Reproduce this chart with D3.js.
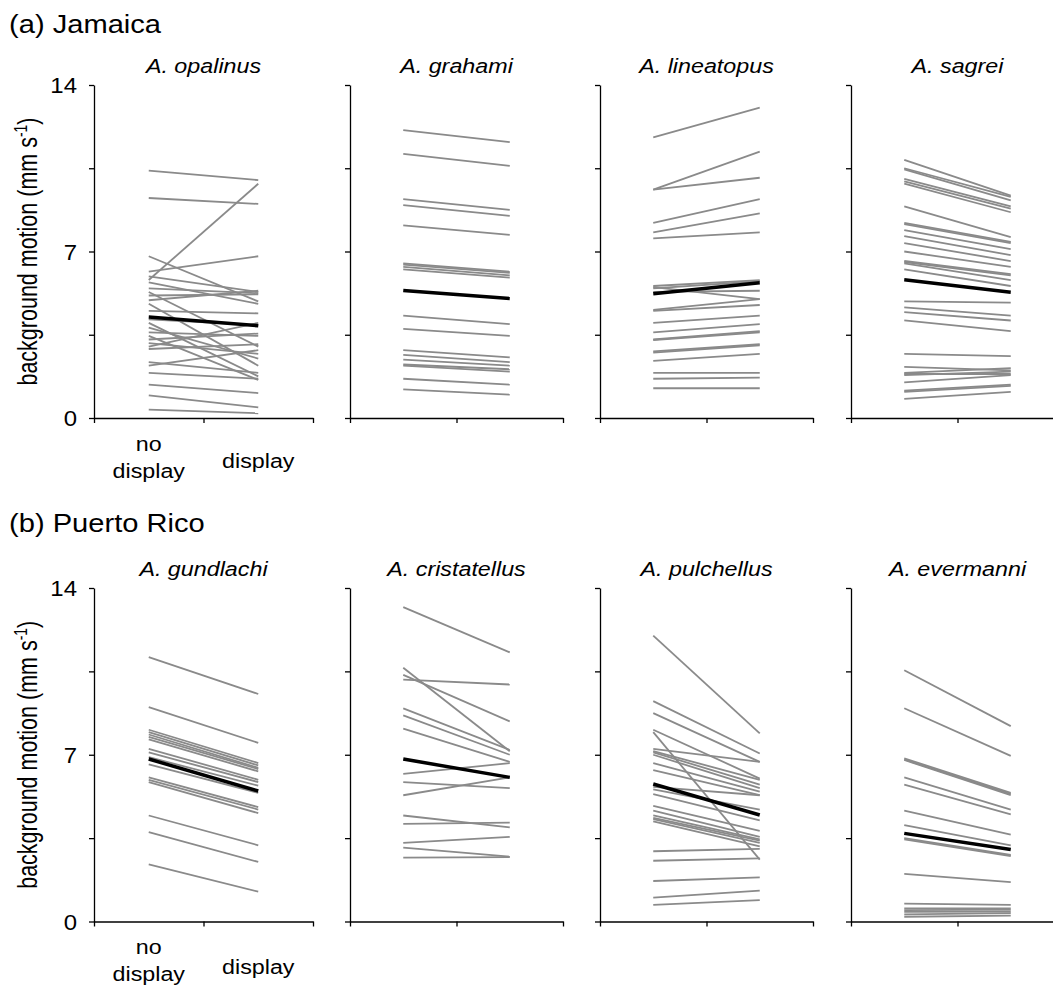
<!DOCTYPE html>
<html>
<head>
<meta charset="utf-8">
<title>Background motion, no display vs display</title>
<script src="https://d3js.org/d3.v7.min.js" charset="utf-8"></script>
<style>
  body { margin: 0; background: #fff; }
  svg { font-family: "Liberation Sans", Arial, Helvetica, sans-serif; }
  .axis path, .axis line { stroke: #000; stroke-width: 1.3px; }
  .pair { fill: none; stroke: #8a8a8a; stroke-width: 1.8px; }
  .mean { fill: none; stroke: #000; stroke-width: 3.5px; }
  .title { font-size: 20.8px; font-style: italic; }
  .row-label { font-size: 26px; }
  .cond { font-size: 20.8px; }
</style>
</head>
<body>
<script>
var width = 1053, height = 985;
var stretch = 1.12;   // the original figure's lettering is a bit wider than it is tall

// rows and panels
var rowLabels = ["(a) Jamaica", "(b) Puerto Rico"];
var species = [
  ["A. opalinus", "A. grahami", "A. lineatopus", "A. sagrei"],
  ["A. gundlachi", "A. cristatellus", "A. pulchellus", "A. evermanni"]
];
var conditions = ["no display", "display"];
var yTicks = [0, 3.5, 7, 10.5, 14];
var yTickLabels = [0, 7, 14];

// individual lizards: [no display, display], mm/s
var opalinus = [[10.4, 10.0], [9.25, 9.0], [5.8, 9.85], [6.8, 4.9], [6.15, 6.8], [5.95, 5.3],
  [5.7, 4.8], [5.45, 5.25], [5.3, 3.0], [5.15, 5.2], [4.95, 5.35], [4.8, 2.2], [4.5, 4.4],
  [4.15, 3.9], [4.0, 1.75], [3.8, 2.5], [3.6, 3.45], [3.45, 1.6], [3.3, 3.55], [3.15, 2.7],
  [3.0, 4.0], [2.9, 3.1], [2.35, 1.9], [2.2, 2.85], [1.9, 1.65], [1.4, 1.05], [0.95, 0.45], [0.35, 0.2]];
var grahami = [[12.1, 11.6], [11.1, 10.6], [9.2, 8.75], [8.95, 8.5], [8.1, 7.7], [6.5, 6.15],
  [6.45, 6.1], [6.35, 6.0], [6.25, 5.9], [4.3, 3.95], [3.75, 3.45], [2.85, 2.55], [2.65, 2.35],
  [2.45, 2.2], [2.25, 2.05], [2.2, 1.95], [1.65, 1.4], [1.2, 0.98]];
var lineatopus = [[11.8, 13.05], [9.6, 11.2], [9.6, 10.1], [8.2, 9.2], [7.8, 8.6], [7.55, 7.8],
  [5.55, 5.8], [5.45, 5.75], [5.3, 5.35], [5.5, 5.0], [4.55, 5.0], [4.5, 4.75], [4.0, 4.3],
  [3.6, 3.95], [3.3, 3.65], [3.28, 3.6], [2.8, 3.1], [2.75, 3.05], [2.4, 2.7], [1.9, 1.9],
  [1.65, 1.7], [1.25, 1.25]];
var sagrei = [[10.85, 9.35], [10.5, 9.3], [10.45, 9.15], [10.05, 8.9], [9.95, 8.8], [9.85, 8.65],
  [8.9, 7.6], [8.2, 7.4], [8.15, 7.35], [7.9, 7.1], [7.65, 6.85], [7.35, 6.6], [7.0, 6.35],
  [6.6, 6.05], [6.55, 6.0], [6.5, 5.8], [6.25, 5.55], [4.9, 4.85], [4.65, 4.3], [4.45, 4.1],
  [4.1, 3.65], [2.7, 2.6], [2.15, 2.0], [1.9, 2.1], [1.85, 1.85], [1.8, 1.95], [1.5, 1.8],
  [1.15, 1.4], [1.1, 1.35], [0.8, 1.1]];
var gundlachi = [[11.1, 9.55], [9.0, 7.5], [8.05, 6.65], [7.95, 6.55], [7.85, 6.45], [7.75, 6.4],
  [7.65, 6.3], [7.25, 5.95], [7.1, 5.85], [6.9, 5.7], [6.6, 5.4], [6.05, 4.8], [5.95, 4.7],
  [5.85, 4.55], [4.45, 3.2], [3.75, 2.5], [2.4, 1.25]];
var cristatellus = [[13.2, 11.3], [10.65, 7.15], [10.35, 8.4], [10.15, 9.95], [8.95, 7.2],
  [8.65, 7.0], [8.1, 6.7], [6.2, 6.65], [5.85, 5.6], [5.3, 6.05], [4.45, 3.95], [4.1, 4.15],
  [3.3, 3.55], [3.1, 2.72], [2.68, 2.7]];
var pulchellus = [[12.0, 7.9], [9.25, 7.05], [8.75, 6.7], [8.05, 6.0], [7.95, 2.6], [7.25, 6.7],
  [7.15, 5.95], [7.1, 5.75], [7.0, 5.6], [6.65, 5.45], [6.35, 5.3], [5.65, 5.3], [5.55, 4.7],
  [5.35, 4.25], [4.85, 3.8], [4.65, 3.55], [4.45, 3.45], [4.35, 3.4], [4.3, 3.3], [4.2, 3.15],
  [2.95, 3.05], [2.55, 2.65], [1.7, 1.85], [1.0, 1.3], [0.7, 0.9]];
var evermanni = [[10.55, 8.2], [8.95, 6.95], [6.85, 5.4], [6.8, 5.35], [6.78, 5.3], [6.05, 4.7],
  [5.75, 4.5], [4.65, 3.65], [4.05, 3.2], [3.5, 2.8], [3.45, 2.75], [2.0, 1.65], [0.75, 0.7],
  [0.55, 0.55], [0.48, 0.5], [0.4, 0.42], [0.3, 0.35], [0.2, 0.25]];

// species means, same order as the panels
var means = [[4.25, 3.88], [5.36, 5.02], [5.22, 5.69], [5.81, 5.29],
             [6.82, 5.48], [6.82, 6.05], [5.77, 4.47], [3.7, 3.02]];

var pairs = [[opalinus, grahami, lineatopus, sagrei],
             [gundlachi, cristatellus, pulchellus, evermanni]];

// layout
var rowTop = [85, 588];        // pixel of 14
var rowBottom = [418, 921.5];  // pixel of 0
var rowLabelY = [33, 532];
var panelX = [94, 350, 600, 851];
var panelW = [219, 213, 213, 213];
var condDy = [[33, 60, 50], [32.5, 59, 52]];   // baselines below the x axis

var svg = d3.select("body").append("svg")
    .attr("width", width)
    .attr("height", height);

// horizontal text, widened like the original lettering
function wideText(sel, x, y, cls, anchor, str) {
  return sel.append("text")
      .attr("class", cls)
      .attr("transform", "translate(" + x + "," + y + ") scale(" + stretch + ",1)")
      .attr("text-anchor", anchor)
      .text(str);
}

rowLabels.forEach(function(label, r) {
  var y = d3.scaleLinear().domain([0, 14]).range([rowBottom[r], rowTop[r]]);

  wideText(svg, 9, rowLabelY[r], "row-label", "start", label);

  // y axis title
  var yl = svg.append("text")
      .attr("transform", "translate(37," + y(7) + ") rotate(-90) scale(1,1.28)")
      .attr("text-anchor", "middle")
      .style("font-size", "21.5px")
      .text("background motion (mm s");
  yl.append("tspan").attr("dy", -8).style("font-size", "14px").text("-1");
  yl.append("tspan").attr("dy", 8).text(")");

  species[r].forEach(function(name, c) {
    var x = d3.scaleLinear().domain([0, 2]).range([0, panelW[c]]);
    var g = svg.append("g").attr("transform", "translate(" + panelX[c] + ",0)");

    var line = d3.line()
        .x(function(d, i) { return x(i + 0.5); })
        .y(function(d) { return y(d); });

    wideText(g, x(1), y(14) - 12.5, "title", "middle", name);

    g.append("g")
        .attr("class", "axis")
        .call(d3.axisLeft(y)
            .tickValues(yTicks)
            .tickSize(5)
            .tickSizeOuter(0)
            .tickPadding(12)
            .tickFormat(function(d) {
              return (c === 0 && yTickLabels.indexOf(d) >= 0) ? d : "";
            }))
        .call(function(a) {
          a.selectAll(".tick text")
              .attr("x", 0)
              .attr("transform", "translate(-17,1) scale(" + stretch + ",1)")
              .style("font-size", "21.4px")
              .style("fill", "#000")
              .attr("font-family", null);
        });

    g.append("g")
        .attr("class", "axis")
        .attr("transform", "translate(0," + rowBottom[r] + ")")
        .call(d3.axisBottom(x)
            .tickValues([0, 1, 2])
            .tickSize(5)
            .tickSizeOuter(0)
            .tickFormat(""));

    g.selectAll(".pair")
        .data(pairs[r][c])
      .enter().append("path")
        .attr("class", "pair")
        .attr("d", line);

    g.append("path")
        .datum(means[r * 4 + c])
        .attr("class", "mean")
        .attr("d", line);

    if (c === 0) {
      var dy = condDy[r];
      wideText(g, x(0.5), rowBottom[r] + dy[0], "cond", "middle", "no");
      wideText(g, x(0.5), rowBottom[r] + dy[1], "cond", "middle", conditions[1]);
      wideText(g, x(1.5), rowBottom[r] + dy[2], "cond", "middle", conditions[1]);
    }
  });
});
</script>
</body>
</html>
